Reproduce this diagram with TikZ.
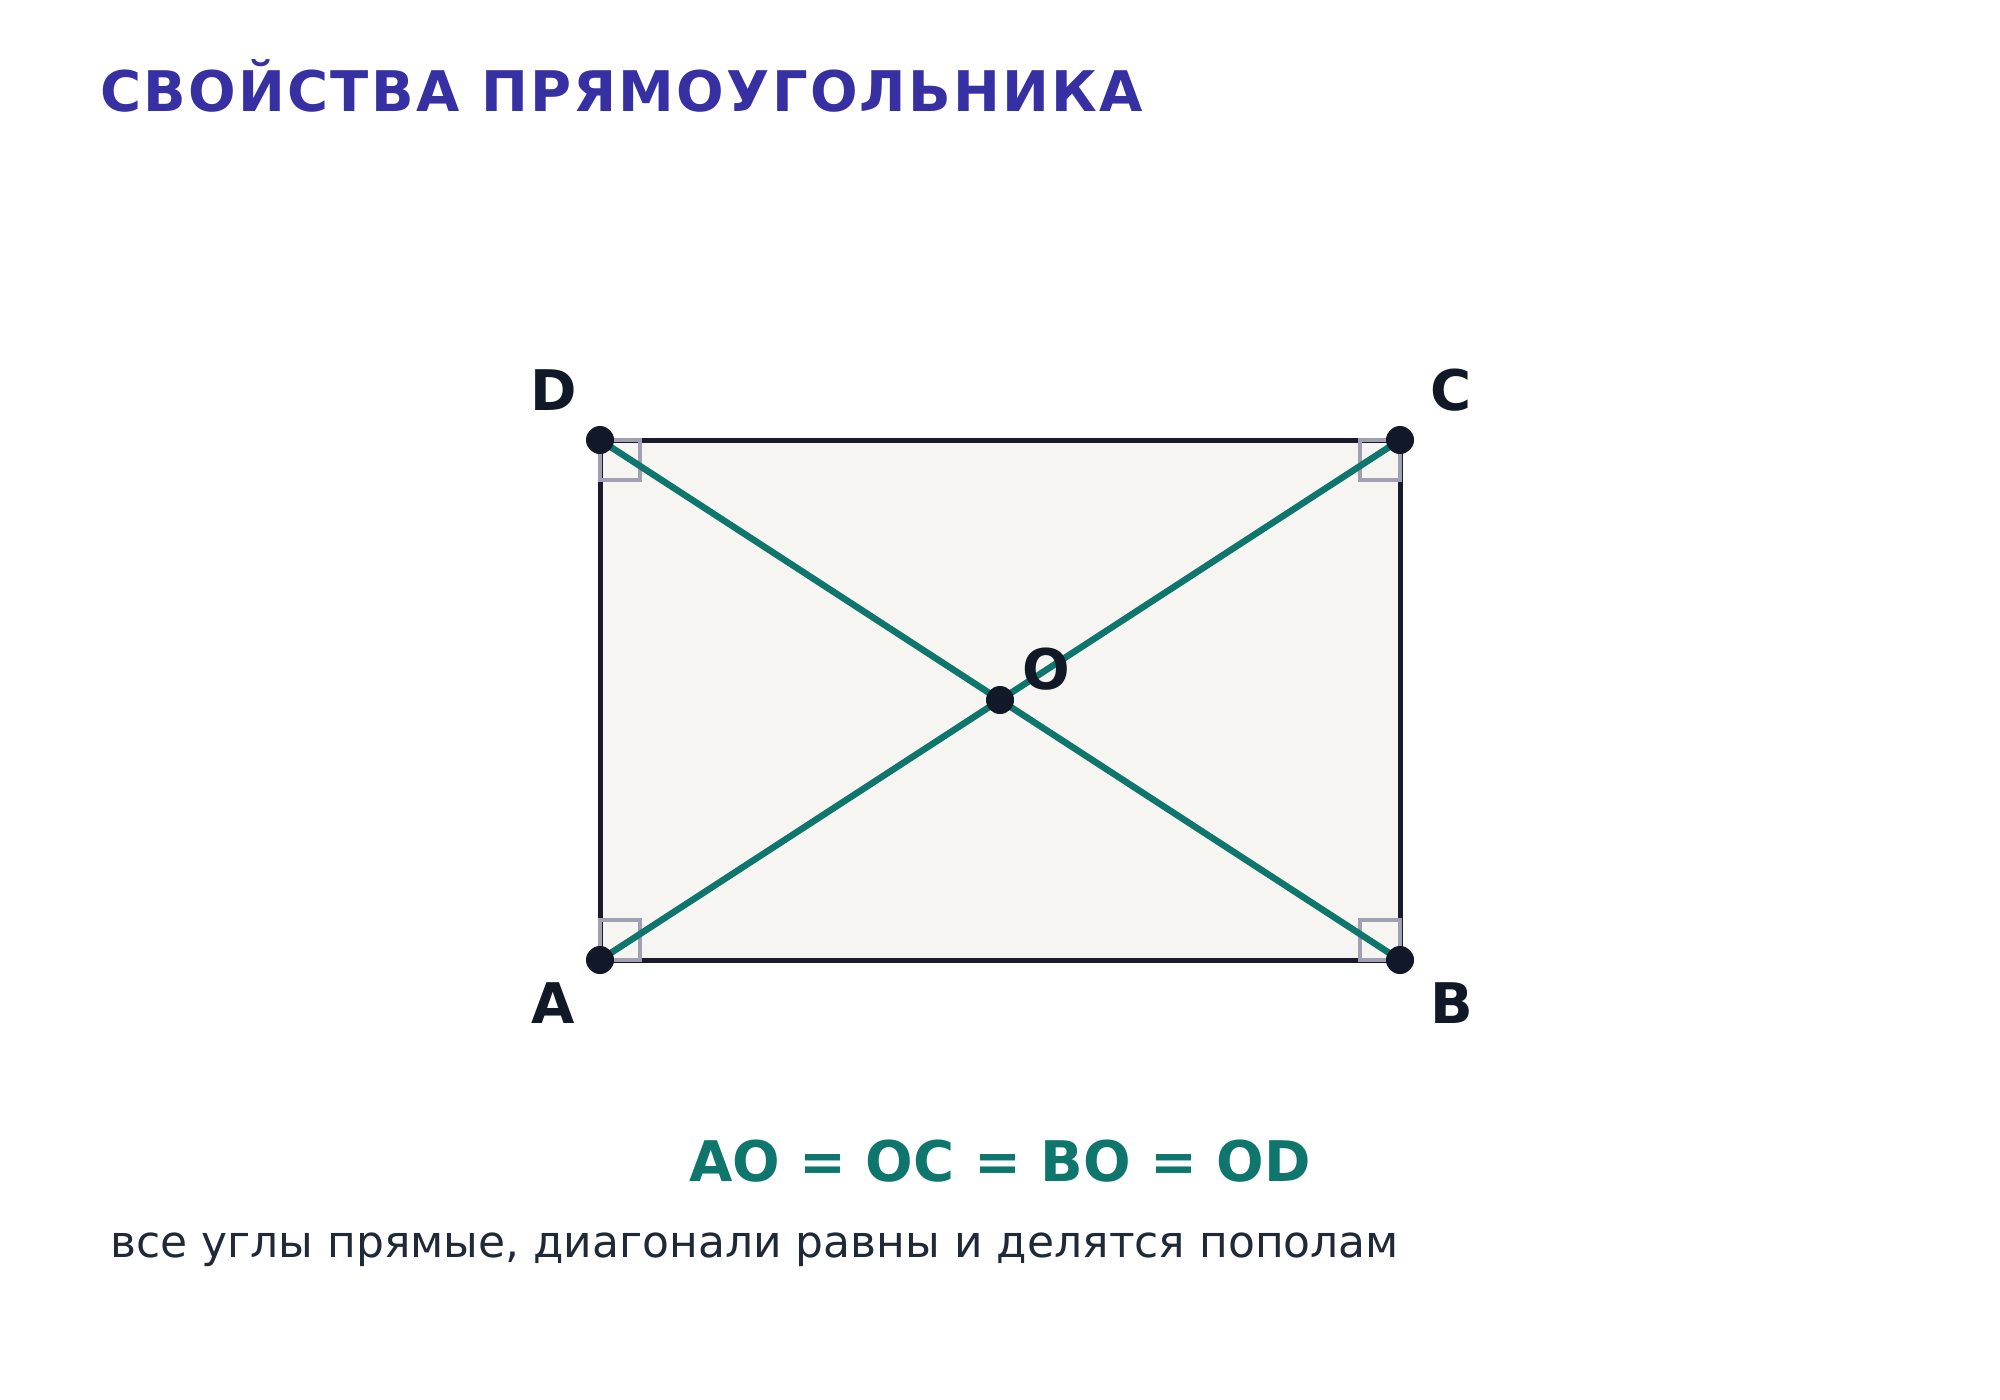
\documentclass[tikz,border=0pt]{standalone}
\usepackage{fontspec}
\setmainfont{DejaVu Sans}
\newfontfamily\titlefont[LetterSpace=4]{DejaVu Sans}
\usepackage{tikz}
\definecolor{titleblue}{HTML}{3730A3}
\definecolor{diagteal}{HTML}{0F766E}
\definecolor{inkdark}{HTML}{111827}
\definecolor{textgray}{HTML}{1F2937}
\definecolor{markgray}{HTML}{A0A0B2}
\definecolor{rectfill}{HTML}{F6F5F1}
\definecolor{rectdark}{HTML}{1A1A2E}
\tikzstyle{vertex} = [circle, fill=inkdark, inner sep=0pt, minimum size=28pt]
\tikzstyle{diag} = [draw=diagteal, line width=6.5pt]
\tikzset{
  ptlabel/.style ={font=\bfseries\fontsize{56}{60}\selectfont, text=inkdark, inner sep=0pt, anchor=base},
  rightangle/.style ={draw=markgray, line width=3.5pt}
}

\begin{document}
\begin{tikzpicture}[x=1pt,y=-1pt]
 \useasboundingbox (0,0) rectangle (2000,1400);
 \node[anchor=base west, inner sep=0pt, text=titleblue,
   font=\titlefont\bfseries\fontsize{56}{60}\selectfont] (title) at (100,111) {СВОЙСТВА ПРЯМОУГОЛЬНИКА};

 \coordinate (A) at (600,960);
 \coordinate (B) at (1400,960);
 \coordinate (C) at (1400,440);
 \coordinate (D) at (600,440);
 \coordinate (O) at (1000,700);

 \draw[fill=rectfill, draw=rectdark, line width=5pt] (A) -- (B) -- (C) -- (D) -- cycle;
 % right angle marks
 \draw[rightangle] (A) rectangle ++(40,-40);
 \draw[rightangle] (B) rectangle ++(-40,-40);
 \draw[rightangle] (C) rectangle ++(-40,40);
 \draw[rightangle] (D) rectangle ++(40,40);

 \draw[diag] (A) -- (C);
 \draw[diag] (B) -- (D);
 \foreach \p in {A,B,C,D,O}
   \node[vertex] (dot\p) at (\p) {};

 \node[ptlabel] (labD) at (554,410) {D};
 \node[ptlabel] (labC) at (1451,410) {C};
 \node[ptlabel] (labA) at (553,1023) {A};
 \node[ptlabel] (labB) at (1452,1023) {B};
 \node[ptlabel] (labO) at (1046,689) {O};

 \node[anchor=base, inner sep=0pt, text=diagteal,
   font=\bfseries\fontsize{56}{60}\selectfont] (eq) at (1000,1181) {AO = OC = BO = OD};
 \node[anchor=base west, inner sep=0pt, text=textgray,
   font=\fontsize{44}{50}\selectfont] (note) at (110,1257) {все углы прямые, диагонали равны и делятся пополам};
\end{tikzpicture}
\end{document}
